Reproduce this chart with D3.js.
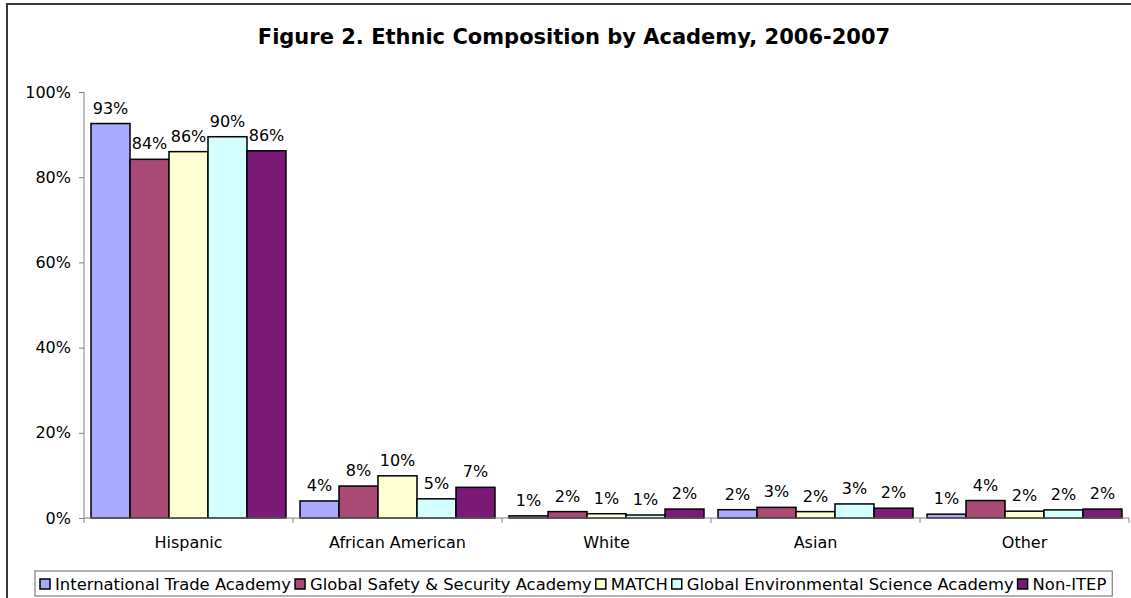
<!DOCTYPE html>
<html>
<head>
<meta charset="utf-8">
<script src="https://cdn.jsdelivr.net/npm/d3@7"></script>
<style>
  html, body { margin: 0; padding: 0; background: #fff; }
  svg { display: block; }
  text { font-family: "DejaVu Sans", Verdana, sans-serif; fill: #000; }
</style>
</head>
<body>
<svg id="chart" width="1131" height="598"></svg>
<script>
const title = "Figure 2. Ethnic Composition by Academy, 2006-2007";
const categories = ["Hispanic", "African American", "White", "Asian", "Other"];
const seriesNames = ["International Trade Academy", "Global Safety & Security Academy", "MATCH", "Global Environmental Science Academy", "Non-ITEP"];
const seriesColors = ["#a9a9ff", "#a84a74", "#ffffd4", "#d4ffff", "#7b1a76"];
// values in percent, per series across categories
const itaValues   = [92.6, 4.0, 0.5, 1.95, 0.9];
const gssaValues  = [84.2, 7.5, 1.5, 2.5, 4.1];
const matchValues = [86.0, 9.9, 1.0, 1.5, 1.6];
const gesaValues  = [89.5, 4.5, 0.7, 3.3, 1.9];
const nonValues   = [86.2, 7.2, 2.1, 2.3, 2.1];
const seriesValues = [itaValues, gssaValues, matchValues, gesaValues, nonValues];
const yTicks = [0, 20, 40, 60, 80, 100];

const svg = d3.select("#chart");
const FONT = '"DejaVu Sans", Verdana, sans-serif';

// outer chart border
svg.append("rect").attr("x", 7).attr("y", 4).attr("width", 1140).attr("height", 600)
  .attr("fill", "#fff").attr("stroke", "#3a3a3a").attr("stroke-width", 2);

svg.append("text").attr("x", 574).attr("y", 44).attr("text-anchor", "middle")
  .style("font-weight", "bold").style("font-size", "21px").text(title);

const pLeft = 84, pRight = 1129, pTop = 92, pBottom = 518;
const x0 = d3.scaleBand().domain(categories).range([pLeft, pRight]).padding(0);
const x1 = d3.scaleBand().domain(d3.range(seriesNames.length)).range([0, x0.bandwidth()])
  .paddingInner(0).paddingOuter(0.18);
const y = d3.scaleLinear().domain([0, 100]).range([pBottom, pTop]);

// y axis
const yAxis = svg.append("g").attr("transform", `translate(${pLeft},0)`)
  .call(d3.axisLeft(y).tickValues(yTicks).tickFormat(d => d + "%").tickSize(5).tickPadding(8));
yAxis.selectAll("path,line").attr("stroke", "#808080");
yAxis.select(".domain").attr("d", `M0,${pTop}V${pBottom}`);
yAxis.selectAll("text").style("font-size", "16px").style("font-family", FONT).attr("fill", "#000");

// bars
const groups = svg.append("g").selectAll("g").data(categories).join("g")
  .attr("transform", d => `translate(${x0(d)},0)`);
groups.each(function(cat, ci) {
  const g = d3.select(this);
  seriesValues.forEach((vals, si) => {
    const v = vals[ci];
    g.append("rect")
      .attr("x", x1(si)).attr("y", y(v))
      .attr("width", x1.bandwidth()).attr("height", y(0) - y(v))
      .attr("fill", seriesColors[si]).attr("stroke", "#000").attr("stroke-width", 1.5);
    g.append("text")
      .attr("x", x1(si) + x1.bandwidth() / 2).attr("y", y(v) - 10)
      .attr("text-anchor", "middle").style("font-size", "16px")
      .text(Math.round(v) + "%");
  });
});

// x axis
const xAxis = svg.append("g").attr("transform", `translate(0,${pBottom})`);
xAxis.append("path").attr("d", `M${pLeft},0H${pRight}`).attr("stroke", "#808080").attr("fill", "none");
const boundaries = categories.map(c => x0(c)).concat([pRight]);
xAxis.selectAll("line").data(boundaries).join("line")
  .attr("x1", d => d).attr("x2", d => d).attr("y1", 0).attr("y2", 5).attr("stroke", "#808080");
xAxis.selectAll("text").data(categories).join("text")
  .attr("x", d => x0(d) + x0.bandwidth() / 2).attr("y", 30)
  .attr("text-anchor", "middle").style("font-size", "16px").text(d => d);

// legend
const legend = svg.append("g");
const lgBox = legend.append("rect").attr("fill", "#fff").attr("stroke", "#808080").attr("stroke-width", 1.2);
let cx = 40;
seriesNames.forEach((name, i) => {
  const it = legend.append("g");
  it.append("rect").attr("x", cx).attr("y", 579).attr("width", 10).attr("height", 10)
    .attr("fill", seriesColors[i]).attr("stroke", "#000").attr("stroke-width", 1.5);
  const t = it.append("text").attr("x", cx + 15).attr("y", 590).style("font-size", "16.4px").text(name);
  const w = t.node().getComputedTextLength();
  cx += 15 + w + 4;
});
lgBox.attr("x", 35).attr("y", 571).attr("width", cx - 35 + 2).attr("height", 25);
</script>
</body>
</html>
